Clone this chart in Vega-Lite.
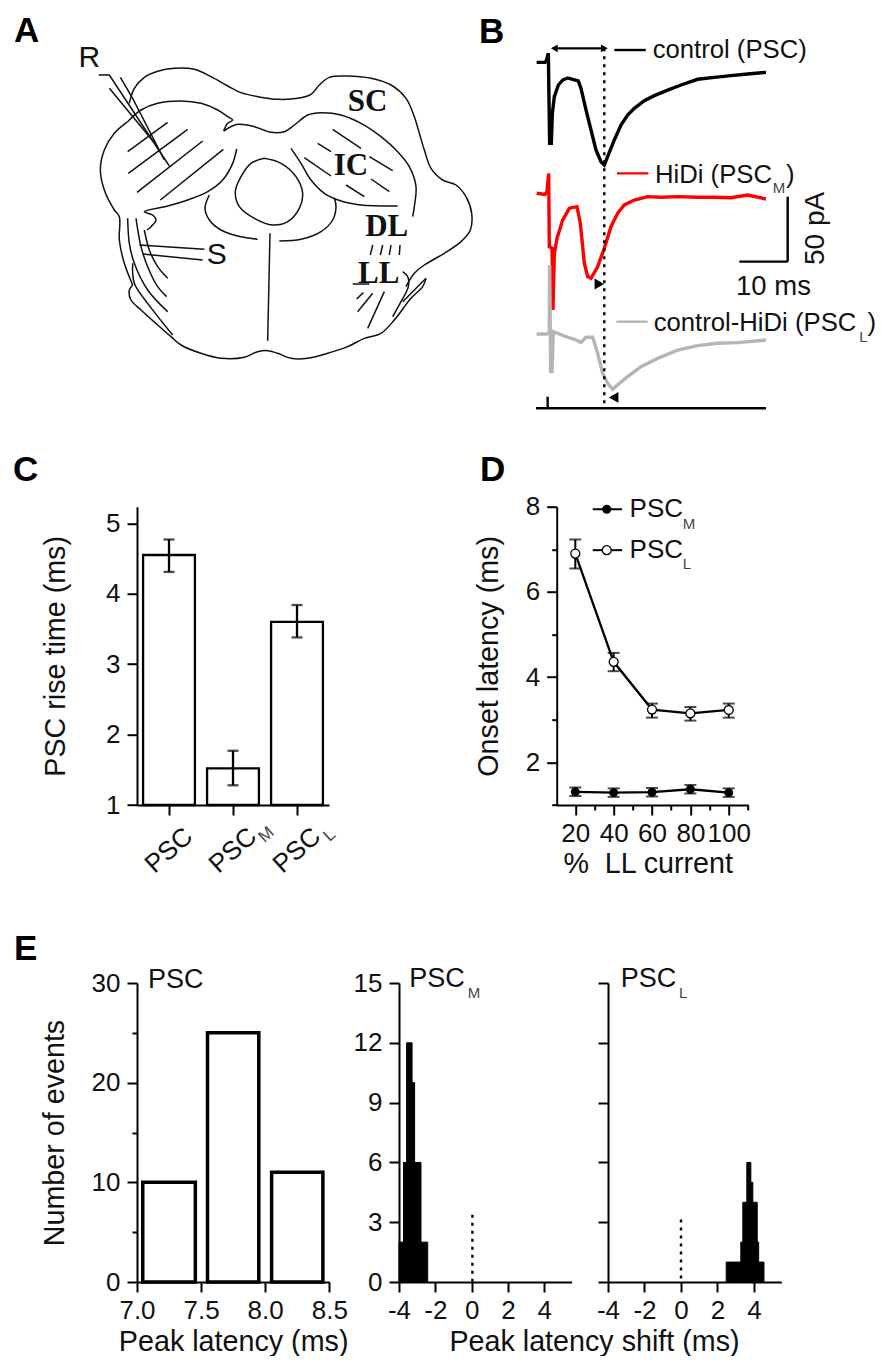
{
"$schema":"https://vega.github.io/schema/vega-lite/v6.json",
"background":"white",
"padding":{"left":13,"top":0,"right":0,"bottom":0},
"autosize":{"type":"pad"},
"config":{"view":{"stroke":null},"font":"Liberation Sans",
"axis":{"grid":false,"domainColor":"#000","domainWidth":2,"tickColor":"#000","tickWidth":2,"labelColor":"#111","titleColor":"#111","labelFont":"Liberation Sans","titleFont":"Liberation Sans","labelFontSize":26,"titleFontSize":28.7,"titleFontWeight":"normal","labelOverlap":false,"labelFlush":false,"labelPadding":5,"tickExtra":false},
"title":{"font":"Liberation Sans","fontSize":35,"fontWeight":"bold","color":"#000","anchor":"start","frame":"group","offset":0},
"text":{"font":"Liberation Sans","color":"#111"}},
"datasets":{
"outline":[
{"p":1,"o":1,"x":385,"y":310},{"p":1,"o":2,"x":400,"y":265},{"p":1,"o":3,"x":430,"y":232},{"p":1,"o":4,"x":470,"y":214},{"p":1,"o":5,"x":520,"y":205},{"p":1,"o":6,"x":580,"y":208},{"p":1,"o":7,"x":630,"y":230},{"p":1,"o":8,"x":680,"y":258},{"p":1,"o":9,"x":720,"y":278},{"p":1,"o":10,"x":770,"y":290},{"p":1,"o":11,"x":830,"y":298},{"p":1,"o":12,"x":890,"y":295},{"p":1,"o":13,"x":930,"y":283},{"p":1,"o":14,"x":955,"y":255},{"p":1,"o":15,"x":985,"y":232},{"p":1,"o":16,"x":1040,"y":228},{"p":1,"o":17,"x":1110,"y":235},{"p":1,"o":18,"x":1170,"y":255},{"p":1,"o":19,"x":1215,"y":295},{"p":1,"o":20,"x":1240,"y":350},{"p":1,"o":21,"x":1255,"y":400},{"p":1,"o":22,"x":1270,"y":450},{"p":1,"o":23,"x":1290,"y":505},{"p":1,"o":24,"x":1325,"y":540},{"p":1,"o":25,"x":1365,"y":555},{"p":1,"o":26,"x":1395,"y":590},{"p":1,"o":27,"x":1412,"y":640},{"p":1,"o":28,"x":1408,"y":690},{"p":1,"o":29,"x":1380,"y":725},{"p":1,"o":30,"x":1330,"y":760},{"p":1,"o":31,"x":1270,"y":795},{"p":1,"o":32,"x":1240,"y":820},{"p":1,"o":33,"x":1215,"y":860},
{"p":2,"o":1,"x":1275,"y":835},{"p":2,"o":2,"x":1265,"y":860},{"p":2,"o":3,"x":1230,"y":895},{"p":2,"o":4,"x":1180,"y":960},{"p":2,"o":5,"x":1140,"y":1000},{"p":2,"o":6,"x":1090,"y":1015},{"p":2,"o":7,"x":1040,"y":1040},{"p":2,"o":8,"x":980,"y":1060},{"p":2,"o":9,"x":920,"y":1075},{"p":2,"o":10,"x":870,"y":1075},{"p":2,"o":11,"x":830,"y":1060},{"p":2,"o":12,"x":800,"y":1052},{"p":2,"o":13,"x":770,"y":1055},{"p":2,"o":14,"x":730,"y":1072},{"p":2,"o":15,"x":660,"y":1075},{"p":2,"o":16,"x":600,"y":1060},{"p":2,"o":17,"x":540,"y":1035},{"p":2,"o":18,"x":510,"y":1010},{"p":2,"o":19,"x":470,"y":975},{"p":2,"o":20,"x":420,"y":930},{"p":2,"o":21,"x":390,"y":900},{"p":2,"o":22,"x":385,"y":870},{"p":2,"o":23,"x":395,"y":855},
{"p":3,"o":1,"x":380,"y":365},{"p":3,"o":2,"x":340,"y":400},{"p":3,"o":3,"x":310,"y":450},{"p":3,"o":4,"x":298,"y":510},{"p":3,"o":5,"x":310,"y":570},{"p":3,"o":6,"x":340,"y":630},{"p":3,"o":7,"x":355,"y":650},{"p":3,"o":8,"x":355,"y":720},{"p":3,"o":9,"x":370,"y":790},{"p":3,"o":10,"x":395,"y":855},
{"p":4,"o":1,"x":380,"y":365},{"p":4,"o":2,"x":420,"y":330},{"p":4,"o":3,"x":470,"y":310},{"p":4,"o":4,"x":540,"y":303},{"p":4,"o":5,"x":600,"y":310},{"p":4,"o":6,"x":650,"y":330},{"p":4,"o":7,"x":680,"y":350},{"p":4,"o":8,"x":695,"y":360},{"p":4,"o":9,"x":680,"y":370},{"p":4,"o":10,"x":668,"y":393},
{"p":5,"o":1,"x":668,"y":393},{"p":5,"o":2,"x":710,"y":373},{"p":5,"o":3,"x":760,"y":380},{"p":5,"o":4,"x":810,"y":397},{"p":5,"o":5,"x":850,"y":395},{"p":5,"o":6,"x":880,"y":375},{"p":5,"o":7,"x":920,"y":345},{"p":5,"o":8,"x":960,"y":338},{"p":5,"o":9,"x":1020,"y":345},{"p":5,"o":10,"x":1080,"y":370},{"p":5,"o":11,"x":1140,"y":410},{"p":5,"o":12,"x":1190,"y":455},{"p":5,"o":13,"x":1225,"y":500},{"p":5,"o":14,"x":1245,"y":560},{"p":5,"o":15,"x":1240,"y":620},{"p":5,"o":16,"x":1235,"y":650},
{"p":6,"o":1,"x":870,"y":445},{"p":6,"o":2,"x":900,"y":490},{"p":6,"o":3,"x":930,"y":540},{"p":6,"o":4,"x":970,"y":580},{"p":6,"o":5,"x":1020,"y":603},{"p":6,"o":6,"x":1080,"y":615},{"p":6,"o":7,"x":1190,"y":618},
{"p":7,"o":1,"x":707,"y":447},{"p":7,"o":2,"x":695,"y":490},{"p":7,"o":3,"x":665,"y":540},{"p":7,"o":4,"x":620,"y":575},{"p":7,"o":5,"x":560,"y":600},{"p":7,"o":6,"x":500,"y":618},{"p":7,"o":7,"x":430,"y":635},{"p":7,"o":8,"x":455,"y":645},{"p":7,"o":9,"x":465,"y":660},{"p":7,"o":10,"x":450,"y":680},{"p":7,"o":11,"x":438,"y":690},
{"p":8,"o":1,"x":625,"y":585},{"p":8,"o":2,"x":612,"y":625},{"p":8,"o":3,"x":625,"y":660},{"p":8,"o":4,"x":660,"y":690},{"p":8,"o":5,"x":710,"y":708},{"p":8,"o":6,"x":770,"y":718},
{"p":9,"o":1,"x":835,"y":723},{"p":9,"o":2,"x":900,"y":718},{"p":9,"o":3,"x":960,"y":695},{"p":9,"o":4,"x":995,"y":660},{"p":9,"o":5,"x":1005,"y":620},{"p":9,"o":6,"x":1000,"y":593},
{"p":10,"o":1,"x":790,"y":475},{"p":10,"o":2,"x":750,"y":490},{"p":10,"o":3,"x":720,"y":530},{"p":10,"o":4,"x":703,"y":575},{"p":10,"o":5,"x":715,"y":620},{"p":10,"o":6,"x":760,"y":655},{"p":10,"o":7,"x":815,"y":675},{"p":10,"o":8,"x":860,"y":665},{"p":10,"o":9,"x":895,"y":625},{"p":10,"o":10,"x":905,"y":580},{"p":10,"o":11,"x":885,"y":530},{"p":10,"o":12,"x":840,"y":490},{"p":10,"o":13,"x":790,"y":475},
{"p":11,"o":1,"x":380,"y":655},{"p":11,"o":2,"x":385,"y":730},{"p":11,"o":3,"x":400,"y":790},{"p":11,"o":4,"x":440,"y":870},{"p":11,"o":5,"x":500,"y":935},
{"p":12,"o":1,"x":405,"y":655},{"p":12,"o":2,"x":420,"y":740},{"p":12,"o":3,"x":440,"y":800},{"p":12,"o":4,"x":470,"y":860},{"p":12,"o":5,"x":497,"y":890},
{"p":13,"o":1,"x":430,"y":690},{"p":13,"o":2,"x":445,"y":750},{"p":13,"o":3,"x":470,"y":800},{"p":13,"o":4,"x":500,"y":835},
{"p":14,"o":1,"x":395,"y":790},{"p":14,"o":2,"x":400,"y":850},{"p":14,"o":3,"x":440,"y":910},{"p":14,"o":4,"x":515,"y":1005},
{"p":15,"o":1,"x":1205,"y":815},{"p":15,"o":2,"x":1220,"y":830},{"p":15,"o":3,"x":1222,"y":860},{"p":15,"o":4,"x":1200,"y":905},{"p":15,"o":5,"x":1175,"y":950}
],
"straight":[
{"p":"a","o":1,"x":807,"y":700},{"p":"a","o":2,"x":800,"y":1022},
{"p":"b","o":1,"x":293,"y":225},{"p":"b","o":2,"x":325,"y":225},{"p":"b","o":3,"x":505,"y":498},
{"p":"c","o":1,"x":325,"y":265},{"p":"c","o":2,"x":470,"y":440},
{"p":"d","o":1,"x":358,"y":232},{"p":"d","o":2,"x":395,"y":295},{"p":"d","o":3,"x":490,"y":480},
{"p":"e","o":1,"x":380,"y":455},{"p":"e","o":2,"x":500,"y":367},
{"p":"f","o":1,"x":382,"y":520},{"p":"f","o":2,"x":560,"y":388},
{"p":"g","o":1,"x":408,"y":577},{"p":"g","o":2,"x":605,"y":423},
{"p":"h","o":1,"x":478,"y":600},{"p":"h","o":2,"x":667,"y":448},
{"p":"i","o":1,"x":995,"y":388},{"p":"i","o":2,"x":1080,"y":445},
{"p":"j","o":1,"x":950,"y":430},{"p":"j","o":2,"x":990,"y":455},
{"p":"k","o":1,"x":910,"y":473},{"p":"k","o":2,"x":990,"y":528},
{"p":"l","o":1,"x":1105,"y":470},{"p":"l","o":2,"x":1175,"y":512},
{"p":"m","o":1,"x":1035,"y":555},{"p":"m","o":2,"x":1090,"y":590},
{"p":"n","o":1,"x":1110,"y":537},{"p":"n","o":2,"x":1165,"y":575},
{"p":"q","o":1,"x":415,"y":735},{"p":"q","o":2,"x":610,"y":748},
{"p":"r","o":1,"x":425,"y":762},{"p":"r","o":2,"x":605,"y":780},
{"p":"s","o":1,"x":1055,"y":852},{"p":"s","o":2,"x":1105,"y":852},
{"p":"t","o":1,"x":1115,"y":735},{"p":"t","o":2,"x":1108,"y":765},
{"p":"u","o":1,"x":1145,"y":735},{"p":"u","o":2,"x":1138,"y":765},
{"p":"v","o":1,"x":1170,"y":735},{"p":"v","o":2,"x":1165,"y":765},
{"p":"w","o":1,"x":1197,"y":735},{"p":"w","o":2,"x":1195,"y":765},
{"p":"x","o":1,"x":1087,"y":878},{"p":"x","o":2,"x":1067,"y":897},
{"p":"y","o":1,"x":1115,"y":880},{"p":"y","o":2,"x":1070,"y":935},
{"p":"z","o":1,"x":1150,"y":875},{"p":"z","o":2,"x":1100,"y":985},
{"p":"aa","o":1,"x":1275,"y":835},{"p":"aa","o":2,"x":1240,"y":870},{"p":"aa","o":3,"x":1205,"y":905}
],
"traces":[
{"trace":"control","t":-2.28,"v":275.1},{"trace":"control","t":-0.55,"v":275.1},{"trace":"control","t":-0.28,"v":276.4},{"trace":"control","t":0.14,"v":282.1},{"trace":"control","t":0.28,"v":246.2},{"trace":"control","t":0.41,"v":212.8},{"trace":"control","t":0.76,"v":212.8},{"trace":"control","t":0.97,"v":235.9},{"trace":"control","t":1.38,"v":248.7},{"trace":"control","t":2.21,"v":257.7},{"trace":"control","t":3.1,"v":261.5},{"trace":"control","t":4.14,"v":263.1},{"trace":"control","t":5.17,"v":262.1},{"trace":"control","t":6.34,"v":260.8},{"trace":"control","t":6.9,"v":255.1},{"trace":"control","t":7.93,"v":238.5},{"trace":"control","t":8.97,"v":223.1},{"trace":"control","t":10,"v":207.7},{"trace":"control","t":11.03,"v":198.7},{"trace":"control","t":11.72,"v":196.2},{"trace":"control","t":12.41,"v":202.6},{"trace":"control","t":13.79,"v":215.4},{"trace":"control","t":15.17,"v":226.9},{"trace":"control","t":16.55,"v":234.6},{"trace":"control","t":17.93,"v":239.7},{"trace":"control","t":20,"v":245.6},{"trace":"control","t":22.07,"v":249.5},{"trace":"control","t":24.83,"v":253.8},{"trace":"control","t":27.59,"v":257.7},{"trace":"control","t":31.03,"v":262.1},{"trace":"control","t":34.48,"v":263.6},{"trace":"control","t":37.93,"v":264.9},{"trace":"control","t":41.38,"v":266.2},{"trace":"control","t":45.17,"v":267.4},
{"trace":"HiDi","t":-2.28,"v":174.4},{"trace":"HiDi","t":-0.55,"v":173.6},{"trace":"HiDi","t":-0.14,"v":175.6},{"trace":"HiDi","t":0.21,"v":189.7},{"trace":"HiDi","t":0.34,"v":133.3},{"trace":"HiDi","t":0.9,"v":132.1},{"trace":"HiDi","t":1.1,"v":84.6},{"trace":"HiDi","t":1.38,"v":128.2},{"trace":"HiDi","t":1.93,"v":139.7},{"trace":"HiDi","t":3.1,"v":153.8},{"trace":"HiDi","t":4.48,"v":162.8},{"trace":"HiDi","t":6.07,"v":164.1},{"trace":"HiDi","t":6.76,"v":151.3},{"trace":"HiDi","t":7.59,"v":120.5},{"trace":"HiDi","t":8.28,"v":110.3},{"trace":"HiDi","t":8.97,"v":109},{"trace":"HiDi","t":10.34,"v":117.9},{"trace":"HiDi","t":11.72,"v":132.1},{"trace":"HiDi","t":13.1,"v":148.7},{"trace":"HiDi","t":14.48,"v":159},{"trace":"HiDi","t":15.86,"v":165.4},{"trace":"HiDi","t":17.93,"v":169.2},{"trace":"HiDi","t":20.69,"v":171.8},{"trace":"HiDi","t":23.45,"v":171.3},{"trace":"HiDi","t":26.9,"v":171.8},{"trace":"HiDi","t":31.03,"v":171.3},{"trace":"HiDi","t":34.48,"v":171.3},{"trace":"HiDi","t":37.93,"v":171},{"trace":"HiDi","t":41.38,"v":173.1},{"trace":"HiDi","t":45.17,"v":170},
{"trace":"diff","t":-2.28,"v":66.2},{"trace":"diff","t":-0.34,"v":66.2},{"trace":"diff","t":0.34,"v":66.7},{"trace":"diff","t":0.41,"v":119.2},{"trace":"diff","t":0.62,"v":37.2},{"trace":"diff","t":0.9,"v":37.2},{"trace":"diff","t":1.17,"v":67.9},{"trace":"diff","t":3.45,"v":64.6},{"trace":"diff","t":5.52,"v":62.1},{"trace":"diff","t":6.9,"v":59.7},{"trace":"diff","t":7.93,"v":63.6},{"trace":"diff","t":9.31,"v":63.6},{"trace":"diff","t":10.34,"v":51.3},{"trace":"diff","t":11.38,"v":35.9},{"trace":"diff","t":12.41,"v":28.2},{"trace":"diff","t":13.45,"v":23.6},{"trace":"diff","t":14.83,"v":28.2},{"trace":"diff","t":16.55,"v":33.3},{"trace":"diff","t":19.31,"v":41},{"trace":"diff","t":22.76,"v":47.4},{"trace":"diff","t":26.9,"v":53.8},{"trace":"diff","t":31.03,"v":57.2},{"trace":"diff","t":35.17,"v":59},{"trace":"diff","t":39.31,"v":59.5},{"trace":"diff","t":45.17,"v":61.5}
],
"bSeg":[
{"c":"black","t":1.38,"v":285.9,"t2":11.72,"v2":285.9},{"c":"black","t":-2.41,"v":9,"t2":45.17,"v2":9},{"c":"black","t":0,"v":9,"t2":0,"v2":17.9},{"c":"black","t":39.66,"v":121.8,"t2":49.66,"v2":121.8},{"c":"black","t":49.66,"v":121.8,"t2":49.66,"v2":171.8},{"c":"black","t":13.8,"v":284.6,"t2":20.3,"v2":284.6},{"c":"red","t":14.34,"v":189.7,"t2":20.83,"v2":189.7},{"c":"gray","t":14.2,"v":75.6,"t2":20.69,"v2":75.6}
],
"bText":[
{"s":"control (PSC)","t":21.72,"v":284.6},{"s":"HiDi (PSC","t":22.2,"v":188.5},{"s":")","t":49.3,"v":188.5},{"s":"control-HiDi (PSC","t":21.93,"v":74.4},{"s":")","t":66.2,"v":74.4}
],
"bSub":[{"s":"M","t":46.55,"v":178.7},{"s":"L","t":64.48,"v":64.1}],
"rise":[{"cat":"PSC","mean":4.55,"lo":4.31,"hi":4.77},{"cat":"PSCM","mean":1.52,"lo":1.28,"hi":1.77},{"cat":"PSCL","mean":3.6,"lo":3.38,"hi":3.84}],
"onset":[
{"s":"PSCL","c":20,"m":6.9,"lo":6.55,"hi":7.23},{"s":"PSCL","c":40,"m":4.36,"lo":4.14,"hi":4.57},{"s":"PSCL","c":60,"m":3.24,"lo":3.05,"hi":3.38},{"s":"PSCL","c":80,"m":3.15,"lo":2.98,"hi":3.3},{"s":"PSCL","c":100,"m":3.23,"lo":3.05,"hi":3.38},
{"s":"PSCM","c":20,"m":1.31,"lo":1.21,"hi":1.41},{"s":"PSCM","c":40,"m":1.29,"lo":1.19,"hi":1.39},{"s":"PSCM","c":60,"m":1.3,"lo":1.2,"hi":1.4},{"s":"PSCM","c":80,"m":1.37,"lo":1.27,"hi":1.47},{"s":"PSCM","c":100,"m":1.29,"lo":1.19,"hi":1.39}
],
"e1":[{"a":7.045,"b":7.455,"n":10},{"a":7.55,"b":7.95,"n":25},{"a":8.05,"b":8.45,"n":11}],
"e2":[{"a":-4,"b":-3.75,"n":2},{"a":-3.75,"b":-3.58,"n":6},{"a":-3.58,"b":-3.28,"n":12},{"a":-3.28,"b":-3.14,"n":10},{"a":-3.14,"b":-2.79,"n":6},{"a":-2.79,"b":-2.42,"n":2}],
"e3":[{"a":2.48,"b":3.28,"n":1},{"a":3.28,"b":3.39,"n":2},{"a":3.39,"b":3.61,"n":4},{"a":3.61,"b":3.83,"n":6},{"a":3.83,"b":3.94,"n":5},{"a":3.94,"b":4.18,"n":4},{"a":4.18,"b":4.26,"n":2},{"a":4.26,"b":4.55,"n":1}]
},
"spacing":54,
"vconcat":[
{"spacing":32.7,"vconcat":[
{"spacing":0,"bounds":"flush","hconcat":[
{"width":334,"height":420,
"title":{"text":"A","dx":-123,"dy":53},
"encoding":{"x":{"field":"x","type":"quantitative","scale":{"domain":[408,1410]},"axis":null},"y":{"field":"y","type":"quantitative","scale":{"domain":[1260,0]},"axis":null}},
"layer":[
{"data":{"name":"outline"},"mark":{"type":"line","interpolate":"catmull-rom","stroke":"#111","strokeWidth":1.5},"encoding":{"detail":{"field":"p"},"order":{"field":"o"}}},
{"data":{"name":"straight"},"mark":{"type":"line","stroke":"#111","strokeWidth":1.5},"encoding":{"detail":{"field":"p"},"order":{"field":"o"}}},
{"data":{"values":[{"s":"SC","x":1100,"y":305},{"s":"IC","x":1050,"y":497},{"s":"DL","x":1157,"y":682},{"s":"LL","x":1133,"y":822}]},"mark":{"type":"text","font":"Liberation Serif","fontWeight":"bold","fontSize":31,"color":"#111"},"encoding":{"text":{"field":"s"}}},
{"data":{"values":[{"s":"R","x":265,"y":175},{"s":"S","x":647,"y":765}]},"mark":{"type":"text","fontSize":30,"color":"#111"},"encoding":{"text":{"field":"s"}}}
]},
{"width":422,"height":420,
"title":{"text":"B","dx":8,"dy":53.5},
"encoding":{"x":{"field":"t","type":"quantitative","scale":{"domain":[-15.86,71.45]},"axis":null},"y":{"field":"v","type":"quantitative","scale":{"domain":[0,323.08]},"axis":null}},
"layer":[
{"data":{"name":"traces"},"mark":{"type":"line","strokeWidth":3.4},"encoding":{"color":{"field":"trace","type":"nominal","legend":null,"scale":{"domain":["control","HiDi","diff"],"range":["#000000","#ff0000","#b5b5b5"]}}}},
{"data":{"values":[{"t":11.72,"v":285.9,"v2":9}]},"mark":{"type":"rule","strokeDash":[3,5],"strokeWidth":2.4,"color":"#000"},"encoding":{"y2":{"field":"v2"}}},
{"data":{"name":"bSeg"},"mark":{"type":"rule","strokeWidth":2.4},"encoding":{"x2":{"field":"t2"},"y2":{"field":"v2"},"color":{"field":"c","type":"nominal","legend":null,"scale":{"domain":["black","red","gray"],"range":["#000000","#ff0000","#b5b5b5"]}}}},
{"data":{"values":[{"t":1.38,"v":285.9}]},"mark":{"type":"point","shape":"triangle-left","filled":true,"color":"#000","size":60,"opacity":1}},
{"data":{"values":[{"t":11.72,"v":285.9}]},"mark":{"type":"point","shape":"triangle-right","filled":true,"color":"#000","size":60,"opacity":1}},
{"data":{"values":[{"t":13.66,"v":17.4}]},"mark":{"type":"point","shape":"triangle-left","filled":true,"color":"#000","size":120,"opacity":1}},
{"data":{"values":[{"t":10.69,"v":104.6}]},"mark":{"type":"point","shape":"triangle-right","filled":true,"color":"#000","size":120,"opacity":1}},
{"data":{"name":"bText"},"mark":{"type":"text","fontSize":25.7,"align":"left"},"encoding":{"text":{"field":"s"}}},
{"data":{"name":"bSub"},"mark":{"type":"text","fontSize":15,"align":"left","color":"#444"},"encoding":{"text":{"field":"s"}}},
{"data":{"values":[{"s":"10 ms","t":38.97,"v":102.1}]},"mark":{"type":"text","fontSize":27.5,"align":"left"},"encoding":{"text":{"field":"s"}}},
{"data":{"values":[{"s":"50 pA","t":55.5,"v":147.4}]},"mark":{"type":"text","fontSize":28,"angle":270},"encoding":{"text":{"field":"s"}}}
]}
]},
{"spacing":227.7,"bounds":"flush","hconcat":[
{"width":192,"height":298.3,
"title":{"text":"C","dx":-124,"dy":-14.4},
"encoding":{
"x":{"field":"cat","type":"nominal","sort":["PSC","PSCM","PSCL"],"scale":{"domain":["PSC","PSCM","PSCL"],"paddingInner":0.19,"paddingOuter":0.095},"axis":{"title":null,"labelExpr":"'PSC'","labelAngle":-42,"labelAlign":"center","labelBaseline":"middle","labelFontSize":26,"tickSize":10,"labelPadding":35}}},
"layer":[
{"data":{"name":"rise"},"mark":{"type":"bar","fill":"white","stroke":"#000","strokeWidth":2.3},"encoding":{"y":{"field":"mean","type":"quantitative","scale":{"domain":[1,5.236],"nice":false,"zero":false},"axis":{"title":"PSC rise time (ms)","values":[1,1.5,2,2.5,3,3.5,4,4.5,5],"format":"d","labelExpr":"datum.value % 1 == 0 ? datum.label : ''","tickSize":{"condition":{"test":"datum.value % 1 == 0","value":10},"value":5},"titlePadding":35,"labelPadding":7}},"y2":{"datum":1}}},
{"data":{"name":"rise"},"mark":{"type":"rule","color":"#000","strokeWidth":2.3},"encoding":{"y":{"field":"lo","type":"quantitative"},"y2":{"field":"hi"}}},
{"data":{"name":"rise"},"mark":{"type":"tick","orient":"horizontal","size":11,"thickness":2.3,"color":"#000"},"encoding":{"y":{"field":"lo","type":"quantitative"}}},
{"data":{"name":"rise"},"mark":{"type":"tick","orient":"horizontal","size":11,"thickness":2.3,"color":"#000"},"encoding":{"y":{"field":"hi","type":"quantitative"}}},
{"data":{"values":[{"cat":"PSCM","s":"M","y":0.15}]},"mark":{"type":"text","fontSize":17,"angle":-42,"dx":45,"color":"#444"},"encoding":{"y":{"field":"y","type":"quantitative"},"text":{"field":"s"}}},
{"data":{"values":[{"cat":"PSCL","s":"L","y":0.15}]},"mark":{"type":"text","fontSize":17,"angle":-42,"dx":44,"color":"#444"},"encoding":{"y":{"field":"y","type":"quantitative"},"text":{"field":"s"}}}
]},
{"width":191.6,"height":298.3,
"title":{"text":"D","dx":-76.7,"dy":-1.7},
"encoding":{
"x":{"field":"c","type":"quantitative","scale":{"domain":[10.3,110.2],"nice":false},"axis":{"title":"%\u00a0\u00a0LL current","titleX":91,"values":[20,30,40,50,60,70,80,90,100,110],"format":"d","labelExpr":"datum.value % 20 == 0 ? datum.label : ''","tickSize":{"condition":{"test":"datum.value % 20 == 0","value":10},"value":5},"titlePadding":3,"labelPadding":5}},
"y":{"field":"m","type":"quantitative","scale":{"domain":[1,8],"nice":false,"zero":false},"axis":{"title":"Onset latency (ms)","values":[1,2,3,4,5,6,7,8],"format":"d","labelExpr":"datum.value % 2 == 0 ? datum.label : ''","tickSize":{"condition":{"test":"datum.value % 2 == 0","value":10},"value":5},"titlePadding":22,"labelPadding":7}}},
"layer":[
{"data":{"name":"onset"},"mark":{"type":"line","color":"#000","strokeWidth":2.3},"encoding":{"detail":{"field":"s"}}},
{"data":{"name":"onset"},"mark":{"type":"rule","color":"#000","strokeWidth":2},"encoding":{"y":{"field":"lo","type":"quantitative"},"y2":{"field":"hi"}}},
{"data":{"name":"onset"},"mark":{"type":"tick","orient":"horizontal","size":12,"thickness":2,"color":"#000"},"encoding":{"y":{"field":"lo","type":"quantitative"}}},
{"data":{"name":"onset"},"mark":{"type":"tick","orient":"horizontal","size":12,"thickness":2,"color":"#000"},"encoding":{"y":{"field":"hi","type":"quantitative"}}},
{"data":{"values":[{"c":29.1,"c2":44.4,"m":7.94},{"c":29.1,"c2":44.4,"m":6.98}]},"mark":{"type":"rule","color":"#000","strokeWidth":2},"encoding":{"x2":{"field":"c2"}}},
{"data":{"name":"onset"},"transform":[{"filter":"datum.s=='PSCM'"}],"mark":{"type":"point","shape":"circle","filled":true,"color":"#000","size":80,"opacity":1}},
{"data":{"name":"onset"},"transform":[{"filter":"datum.s=='PSCL'"}],"mark":{"type":"point","shape":"circle","filled":true,"fill":"white","stroke":"#000","strokeWidth":1.3,"size":80,"opacity":1}},
{"data":{"values":[{"c":36.4,"m":7.94}]},"mark":{"type":"point","shape":"circle","filled":true,"color":"#000","size":80,"opacity":1}},
{"data":{"values":[{"c":36.4,"m":6.98}]},"mark":{"type":"point","shape":"circle","filled":true,"fill":"white","stroke":"#000","strokeWidth":1.3,"size":80,"opacity":1}},
{"data":{"values":[{"c":48.3,"m":7.94,"s":"PSC"},{"c":48.3,"m":6.98,"s":"PSC"}]},"mark":{"type":"text","fontSize":26,"align":"left"},"encoding":{"text":{"field":"s"}}},
{"data":{"values":[{"c":76,"m":7.6,"s":"M"},{"c":76,"m":6.65,"s":"L"}]},"mark":{"type":"text","fontSize":15,"align":"left","color":"#444"},"encoding":{"text":{"field":"s"}}}
]}
]}
]},
{"spacing":69,"bounds":"flush","hconcat":[
{"width":192.3,"height":299,
"title":{"text":"E","dx":-123,"dy":5},
"layer":[
{"data":{"name":"e1"},"mark":{"type":"rect","fill":"white","stroke":"#000","strokeWidth":3.5},"encoding":{
"x":{"field":"a","type":"quantitative","scale":{"domain":[7,8.5],"nice":false,"zero":false},"axis":{"title":"Peak latency (ms)","values":[7,7.5,8,8.5],"format":".1f","tickSize":10,"titlePadding":4}},"x2":{"field":"b"},
"y":{"field":"n","type":"quantitative","scale":{"domain":[0,30],"nice":false},"axis":{"title":"Number of events","values":[0,5,10,15,20,25,30],"format":"d","labelExpr":"datum.value % 10 == 0 ? datum.label : ''","tickSize":{"condition":{"test":"datum.value % 10 == 0","value":10},"value":5},"titlePadding":22,"labelPadding":7}},"y2":{"datum":0}}},
{"data":{"values":[{"a":7.086,"n":30.3,"s":"PSC"}]},"mark":{"type":"text","fontSize":27,"align":"left"},"encoding":{"x":{"field":"a","type":"quantitative"},"y":{"field":"n","type":"quantitative"},"text":{"field":"s"}}}
]},
{"spacing":36,"bounds":"flush","hconcat":[
{"width":172.6,"height":299,
"layer":[
{"data":{"name":"e2"},"mark":{"type":"rect","fill":"#000","stroke":"#000","strokeWidth":1},"encoding":{
"x":{"field":"a","type":"quantitative","scale":{"domain":[-4,5.5],"nice":false,"zero":false},"axis":{"title":"Peak latency shift (ms)","titleX":195,"values":[-4,-3,-2,-1,0,1,2,3,4,5],"labelExpr":"datum.value % 2 == 0 ? ''+datum.value : ''","tickSize":{"condition":{"test":"datum.value % 2 == 0","value":10},"value":5},"titlePadding":4}},"x2":{"field":"b"},
"y":{"field":"n","type":"quantitative","scale":{"domain":[0,15],"nice":false},"axis":{"title":null,"values":[0,1.5,3,4.5,6,7.5,9,10.5,12,13.5,15],"labelExpr":"datum.value % 3 == 0 ? ''+datum.value : ''","tickSize":{"condition":{"test":"datum.value % 3 == 0","value":10},"value":5},"labelPadding":7}},"y2":{"datum":0}}},
{"data":{"values":[{"a":0.04,"b":0.04,"n":3.38,"m":0}]},"mark":{"type":"rule","strokeDash":[3,5],"strokeWidth":2.4,"color":"#000"},"encoding":{"x":{"field":"a","type":"quantitative"},"y":{"field":"n","type":"quantitative"},"y2":{"field":"m"}}},
{"data":{"values":[{"a":-3.43,"n":15.2,"s":"PSC"}]},"mark":{"type":"text","fontSize":27,"align":"left"},"encoding":{"x":{"field":"a","type":"quantitative"},"y":{"field":"n","type":"quantitative"},"text":{"field":"s"}}},
{"data":{"values":[{"a":-0.22,"n":14.5,"s":"M"}]},"mark":{"type":"text","fontSize":15,"align":"left","color":"#444"},"encoding":{"x":{"field":"a","type":"quantitative"},"y":{"field":"n","type":"quantitative"},"text":{"field":"s"}}}
]},
{"width":173.3,"height":299,
"layer":[
{"data":{"name":"e3"},"mark":{"type":"rect","fill":"#000","stroke":"#000","strokeWidth":1},"encoding":{
"x":{"field":"a","type":"quantitative","scale":{"domain":[-4,5.5],"nice":false,"zero":false},"axis":{"title":null,"values":[-4,-3,-2,-1,0,1,2,3,4,5],"labelExpr":"datum.value % 2 == 0 ? ''+datum.value : ''","tickSize":{"condition":{"test":"datum.value % 2 == 0","value":10},"value":5}}},"x2":{"field":"b"},
"y":{"field":"n","type":"quantitative","scale":{"domain":[0,15],"nice":false},"axis":{"title":null,"values":[0,1.5,3,4.5,6,7.5,9,10.5,12,13.5,15],"labels":false,"tickSize":{"condition":{"test":"datum.value % 3 == 0","value":10},"value":5}}},"y2":{"datum":0}}},
{"data":{"values":[{"a":0,"n":3.13,"m":0}]},"mark":{"type":"rule","strokeDash":[3,5],"strokeWidth":2.4,"color":"#000"},"encoding":{"x":{"field":"a","type":"quantitative"},"y":{"field":"n","type":"quantitative"},"y2":{"field":"m"}}},
{"data":{"values":[{"a":-3.3,"n":15.2,"s":"PSC"}]},"mark":{"type":"text","fontSize":27,"align":"left"},"encoding":{"x":{"field":"a","type":"quantitative"},"y":{"field":"n","type":"quantitative"},"text":{"field":"s"}}},
{"data":{"values":[{"a":-0.11,"n":14.5,"s":"L"}]},"mark":{"type":"text","fontSize":15,"align":"left","color":"#444"},"encoding":{"x":{"field":"a","type":"quantitative"},"y":{"field":"n","type":"quantitative"},"text":{"field":"s"}}}
]}
]}
]}
]
}
